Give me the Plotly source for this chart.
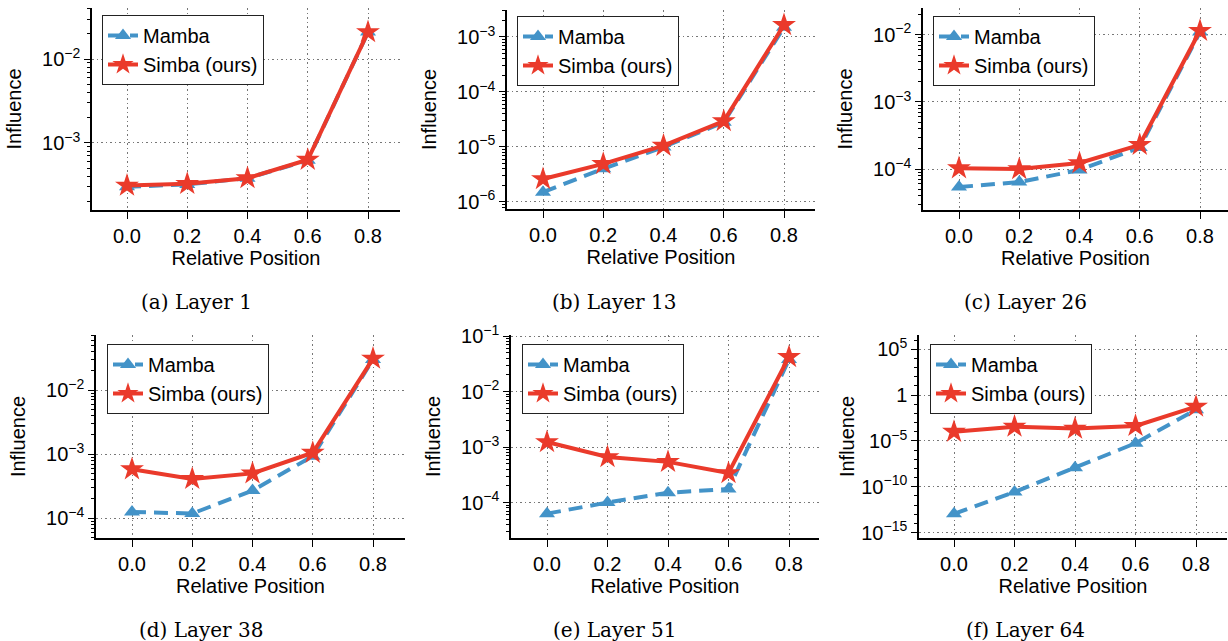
import plotly.graph_objects as go
import math

W, H = 1228, 641

positions = [0.0, 0.2, 0.4, 0.6, 0.8]
x_tick_labels = ["0.0", "0.2", "0.4", "0.6", "0.8"]

captions = ["(a) Layer 1", "(b) Layer 13", "(c) Layer 26",
            "(d) Layer 38", "(e) Layer 51", "(f) Layer 64"]

mamba_a = [3.0e-4, 3.2e-4, 3.8e-4, 6.2e-4, 2.1e-2]
simba_a = [3.1e-4, 3.25e-4, 3.8e-4, 6.3e-4, 2.1e-2]
mamba_b = [1.5e-6, 4.0e-6, 1.0e-5, 2.8e-5, 1.5e-3]
simba_b = [2.6e-6, 4.9e-6, 1.05e-5, 2.95e-5, 1.65e-3]
mamba_c = [5.4e-5, 6.4e-5, 9.7e-5, 2.1e-4, 1.1e-2]
simba_c = [1.03e-4, 1.0e-4, 1.23e-4, 2.3e-4, 1.15e-2]
mamba_d = [1.25e-4, 1.18e-4, 2.7e-4, 9.3e-4, 3.0e-2]
simba_d = [5.8e-4, 4.1e-4, 5.0e-4, 1.05e-3, 3.1e-2]
mamba_e = [6.3e-5, 1.0e-4, 1.5e-4, 1.75e-4, 3.8e-2]
simba_e = [1.23e-3, 6.6e-4, 5.4e-4, 3.4e-4, 4.2e-2]
mamba_f = [1.1e-13, 2.6e-11, 1.2e-8, 5.6e-6, 2.5e-2]
simba_f = [1.0e-4, 3.6e-4, 2.2e-4, 4.3e-4, 5.6e-2]

mamba_series = [mamba_a, mamba_b, mamba_c, mamba_d, mamba_e, mamba_f]
simba_series = [simba_a, simba_b, simba_c, simba_d, simba_e, simba_f]

# major y tick exponents per panel
y_major_exps = [[-3, -2], [-6, -5, -4, -3], [-4, -3, -2], [-4, -3, -2],
                [-4, -3, -2, -1], [-15, -10, -5, 0, 5]]

# layout geometry in pixels: left spine, x of 0.0, x of 0.8, right edge, top, bottom, log-range
panels = [
    dict(xl=92, x0=127, x8=368, xr=400, yt=8, yb=210, yr=(-3.80, -1.39)),
    dict(xl=507, x0=543, x8=784, xr=815, yt=10, yb=209, yr=(-6.13, -2.51)),
    dict(xl=923, x0=959, x8=1200, xr=1228, yt=8, yb=210, yr=(-4.61, -1.60)),
    dict(xl=96, x0=132, x8=373, xr=405, yt=335, yb=538, yr=(-4.31, -1.14)),
    dict(xl=511, x0=547, x8=789, xr=819, yt=335, yb=538, yr=(-4.64, -0.98)),
    dict(xl=919, x0=954, x8=1196, xr=1227, yt=335, yb=538, yr=(-15.6, 6.56)),
]
legend_pos = [(102, 15), (517, 16), (933, 16), (107, 344), (522, 344), (930, 344)]
caption_pos = [(197, 302), (614, 302), (1025, 302), (201, 630), (615, 630), (1025, 630)]
title_standoff = [15, 15, 15, 15, 15, 1]

BLUE = "#4393c8"
RED = "#ea3a2b"
FONT = "Liberation Sans, Arial, Helvetica, sans-serif"
FS = 20

def sup(e):
    if e == 0:
        return "1"
    s = str(e).replace("-", "\u2212")
    return "10<sup>" + s + "</sup>"

fig = go.Figure()
layout = dict(
    width=W, height=H, margin=dict(l=0, r=0, t=0, b=0, autoexpand=False),
    paper_bgcolor="white", plot_bgcolor="white",
    font=dict(family=FONT, size=FS, color="black"),
    annotations=[], showlegend=True,
)

for i, p in enumerate(panels):
    k = "" if i == 0 else str(i + 1)
    xa, ya = "x" + k, "y" + k
    leg = "legend" + k
    fig.add_trace(go.Scatter(
        x=positions, y=mamba_series[i], mode="lines+markers", name="Mamba",
        xaxis=xa, yaxis=ya, legend=leg,
        line=dict(color=BLUE, width=4, dash="14px,8px"),
        marker=dict(symbol="triangle-up", size=14, color=BLUE),
    ))
    fig.add_trace(go.Scatter(
        x=positions, y=simba_series[i], mode="lines+markers", name="Simba (ours)",
        xaxis=xa, yaxis=ya, legend=leg,
        line=dict(color=RED, width=4),
        marker=dict(symbol="star", size=18, color=RED),
    ))
    upx = 0.8 / (p["x8"] - p["x0"])
    xrange = [-(p["x0"] - p["xl"]) * upx, 0.8 + (p["xr"] - p["x8"]) * upx]
    lo, hi = p["yr"]
    majors = y_major_exps[i]
    if i == 5:
        minors = [10.0 ** e for e in range(math.floor(lo), math.ceil(hi) + 1)
                  if lo <= e <= hi and e not in majors]
    else:
        minors = []
        for e in range(math.floor(lo) - 1, math.ceil(hi) + 1):
            for m in range(2, 10):
                v = m * 10.0 ** e
                if lo <= math.log10(v) <= hi:
                    minors.append(v)
    layout["xaxis" + k] = dict(
        domain=[p["xl"] / W, min(p["xr"] / W, 1.0)], anchor=ya, range=xrange,
        tickvals=positions, ticktext=x_tick_labels, automargin=False,
        showline=True, linecolor="black", linewidth=1.5,
        ticks="outside", ticklen=7, tickcolor="black", tickwidth=1.2,
        showgrid=True, gridcolor="#777777", griddash="1.5px,3px", gridwidth=1,
        zeroline=False, tickfont=dict(size=FS),
        title=dict(text="Relative Position", font=dict(size=FS), standoff=2),
    )
    layout["yaxis" + k] = dict(
        domain=[1 - p["yb"] / H, 1 - p["yt"] / H], anchor=xa, type="log",
        range=[lo, hi], automargin=False,
        tickvals=[10.0 ** e for e in majors], ticktext=[sup(e) for e in majors],
        showline=True, linecolor="black", linewidth=1.5,
        ticks="outside", ticklen=6, tickcolor="black", tickwidth=1.2,
        showgrid=True, gridcolor="#777777", griddash="1.5px,3px", gridwidth=1,
        zeroline=False, tickfont=dict(size=FS),
        minor=dict(tickvals=minors, ticks="outside", ticklen=3.5,
                   tickcolor="black", tickwidth=1, showgrid=False),
        title=dict(text="Influence", font=dict(size=FS), standoff=title_standoff[i]),
    )
    lx, ly = legend_pos[i]
    layout[leg] = dict(
        x=lx / W, y=1 - ly / H, xanchor="left", yanchor="top",
        xref="paper", yref="paper",
        bgcolor="white", bordercolor="#222", borderwidth=1,
        font=dict(size=FS, family=FONT), tracegroupgap=0,
        itemwidth=30,
    )
    cx, cy = caption_pos[i]
    layout["annotations"].append(dict(
        text=captions[i], x=cx / W, y=1 - cy / H, xref="paper", yref="paper",
        xanchor="center", yanchor="middle", showarrow=False,
        font=dict(family="DejaVu Serif, serif", size=20, color="black"),
    ))

fig.update_layout(**layout)
fig.write_html(
    "out.html",
    config={"displayModeBar": False},
    post_script="document.body.style.margin='0';document.body.style.padding='0';"
                "document.body.style.overflow='hidden';",
)
